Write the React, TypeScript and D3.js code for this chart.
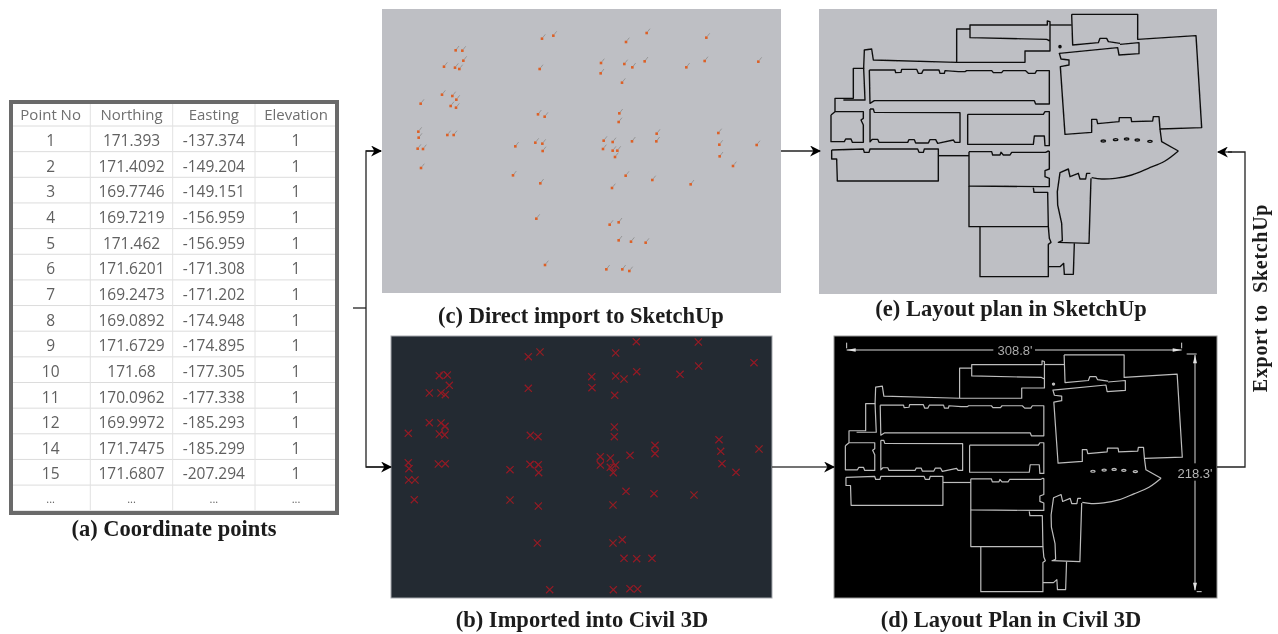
import React from "react";
import * as d3 from "d3";

const headers = ["Point No", "Northing", "Easting", "Elevation"];
const pointNo = ["1", "2", "3", "4", "5", "6", "7", "8", "9", "10", "11", "12", "14", "15", "..."];
const northing = ["171.393", "171.4092", "169.7746", "169.7219", "171.462", "171.6201", "169.2473", "169.0892", "171.6729", "171.68", "170.0962", "169.9972", "171.7475", "171.6807", "..."];
const easting = ["-137.374", "-149.204", "-149.151", "-156.959", "-156.959", "-171.308", "-171.202", "-174.948", "-174.895", "-177.305", "-177.338", "-185.293", "-185.299", "-207.294", "..."];
const elevation = ["1", "1", "1", "1", "1", "1", "1", "1", "1", "1", "1", "1", "1", "1", "..."];

type P = [number, number];

const sketchupPoints: P[] = [[227,136],[247,137],[250,167],[192,185],[225,188],[238,192],[186,269],[217,273],[229,284],[212,303],[228,308],[122,296],[115,380],[116,398],[113,431],[129,432],[202,390],[221,390],[123,489],[486,101],[520,92],[479,192],[474,328],[494,335],[406,424],[466,413],[487,416],[488,438],[399,511],[481,535],[469,641],[495,780],[738,111],[800,84],[663,174],[662,205],[733,177],[757,187],[794,169],[726,233],[979,98],[919,187],[974,168],[1135,170],[718,325],[716,351],[671,407],[669,432],[698,411],[698,437],[712,437],[705,456],[756,409],[830,386],[829,409],[1015,384],[1018,419],[1019,454],[1059,483],[1130,420],[737,512],[696,549],[817,525],[932,538],[689,659],[716,652],[716,706],[753,710],[797,713],[679,793],[727,793],[748,798]];
const civilPoints: P[] = [[163,137],[187,135],[193,166],[133,189],[168,189],[181,194],[133,278],[168,279],[180,289],[163,312],[179,315],[70,310],[70,398],[72,416],[71,450],[90,450],[160,402],[181,401],[88,509],[430,80],[465,66],[430,175],[436,316],[459,320],[375,419],[435,403],[460,404],[461,428],[375,510],[460,528],[457,639],[494,779],[692,69],[754,35],[620,140],[621,173],[692,138],[717,147],[755,125],[689,196],[940,36],[885,133],[941,108],[1107,98],[688,291],[688,320],[646,380],[646,405],[676,384],[676,412],[692,405],[685,428],[735,376],[810,346],[810,371],[1002,329],[1007,364],[1011,401],[1053,427],[1122,357],[723,484],[684,525],[807,491],[927,495],[684,639],[712,629],[717,685],[755,686],[801,685],[685,779],[735,776],[758,777]];
const civilRings: P[] = [[180,300],[175,135],[448,405],[646,393],[810,358],[682,412]];

const planLines: P[][] = [
  [[60,320],[60,280],[115,280],[115,190],[146,190],[148,135],[170,132],[175,165],[425,172],[630,172],[630,138],[705,138],[705,50],[697,48],[697,60],[465,60],[465,98],[695,103],[705,108]],
  [[425,172],[425,72],[465,72]],
  [[705,60],[770,60]],
  [[770,28],[968,28],[968,103],[1143,92],[1160,368],[1035,372],[1032,335],[1015,335],[1013,348],[950,350],[948,338],[913,338],[912,350],[848,356],[845,343],[830,343],[830,382],[750,388],[736,185],[762,180],[762,165],[738,162],[733,145],[908,128],[912,150],[972,146],[972,113],[915,118]],
  [[770,28],[773,120],[850,113],[855,100],[875,100],[880,110],[915,115]],
  [[1035,372],[1040,410],[1090,438]],
  [[826,505],[815,505],[812,522],[795,522],[790,505],[765,515],[760,492],[735,503],[727,560],[728,600],[740,655],[742,707],[730,712],[822,715],[828,520]],
  [[778,715],[775,808],[748,808],[746,775],[735,785],[700,785]],
  [[146,190],[150,285],[85,285]],
  [[163,195],[240,195],[242,203],[258,202],[260,193],[305,193],[310,205],[320,205],[325,195],[372,195],[375,205],[388,205],[390,197],[430,200],[450,200],[455,197],[530,197],[535,203],[560,203],[565,197],[580,197],[632,197],[640,205],[660,205],[665,197],[703,197],[703,297],[662,297],[658,287],[178,287],[165,295],[163,195]],
  [[165,312],[175,312],[178,322],[435,323],[435,412],[420,412],[415,405],[368,415],[362,404],[345,404],[340,414],[302,414],[298,404],[282,404],[278,412],[192,412],[188,403],[172,403],[165,410],[165,312]],
  [[458,328],[685,328],[690,320],[703,320],[703,422],[690,422],[688,393],[658,393],[655,418],[458,418],[458,328]],
  [[48,330],[60,320],[145,320],[145,340],[138,345],[145,360],[145,412],[112,412],[108,402],[92,402],[88,410],[48,410],[48,330]],
  [[50,435],[145,432],[148,442],[162,442],[165,432],[308,432],[312,442],[325,442],[328,432],[370,432],[370,528],[67,528],[65,462],[50,462],[50,435]],
  [[370,452],[462,452]],
  [[462,440],[530,440],[533,450],[555,450],[558,442],[565,450],[585,450],[590,442],[692,442],[700,438],[703,440],[703,492],[690,497],[690,515],[703,520],[703,545],[680,545],[462,543],[462,440]],
  [[462,543],[462,665],[700,665],[698,562],[657,562],[655,548]],
  [[495,665],[495,815],[700,815],[700,718],[708,712],[703,700],[700,665]],
];
const planCurve: P[] = [[1090,438],[1050,468],[1000,490],[950,510],[900,520],[860,522],[830,518]];
const planWindows: P[] = [[865,408],[902,404],[935,402],[967,405],[1005,409]];
const planDot: P = [735,125];

const widthLabel = "308.8'";
const heightLabel = "218.3'";

const sq = (a: number, b: number, c: number, d: number) => d3.scaleLinear().domain([a, b]).range([c, d]);

const cX = sq(0, 1215, 380, 785), cY = sq(0, 885, 5, 300);
const bX = sq(0, 1185, 385, 780), bY = sq(0, 825, 330, 605);
const eX = sq(0, 1215, 815, 1220), eY = sq(0, 885, 5, 300);
const dX = sq(60, 1160, 849, 1182.3), dY = sq(25, 815, 354, 591.7);
const dimX = sq(0, 1200, 825, 1225), dimY = sq(0, 825, 330, 605);

const serif = "'Liberation Serif', serif";
const tableFont = "'Open Sans', sans-serif";

const colX = [11, 90.3, 172.7, 255, 337];
const rowTop = 103.5;
const headerH = 22.5;
const rowH = 25.65;

function Plan({ x, y, color, w, dy = 0 }: { x: any; y: any; color: string; w: number; dy?: number }) {
  const line = d3.line<P>().x((p) => x(p[0])).y((p) => y(p[1]));
  const curve = d3.line<P>().x((p) => x(p[0])).y((p) => y(p[1])).curve(d3.curveCatmullRom);
  return (
    <g fill="none" stroke={color} strokeWidth={w} strokeLinejoin="round">
      {planLines.map((l, i) => <path key={i} d={line(l) as string} />)}
      <path d={curve(planCurve) as string} />
      {planWindows.map((p, i) => (
        <ellipse key={i} cx={x(p[0])} cy={y(p[1]) + dy} rx={2.2} ry={1} />
      ))}
      <circle cx={x(planDot[0])} cy={y(planDot[1])} r={1.1} fill={color} />
    </g>
  );
}

export default function App() {
  const columns = [pointNo, northing, easting, elevation];
  const tableRight = colX[4];
  const tableBottom = rowTop + headerH + rowH * pointNo.length;
  return (
    <svg width={1278} height={634} style={{ position: "absolute", left: 0, top: 0, background: "#fff" }}>
      <defs>
        <filter id="soft" x="-5%" y="-5%" width="110%" height="110%"><feGaussianBlur stdDeviation="0.5" /></filter>
        <filter id="soft2" x="-5%" y="-5%" width="110%" height="110%"><feGaussianBlur stdDeviation="0.4" /></filter>
        <marker id="arr" viewBox="0 0 10 10" refX="9" refY="5" markerWidth="11" markerHeight="11" markerUnits="userSpaceOnUse" orient="auto">
          <path d="M0,0 L10,5 L0,10 L3,5 Z" fill="#000" />
        </marker>
      </defs>

      {/* (a) table */}
      <g filter="url(#soft)">
        <rect x={11} y={102} width={326} height={411} fill="#fff" />
        {d3.range(0, pointNo.length + 1).map((i) => {
          const y = rowTop + headerH + rowH * i;
          return <line key={i} x1={11} x2={tableRight} y1={y} y2={y} stroke="#dcdcdc" strokeWidth={1} />;
        })}
        {colX.slice(1, 4).map((x, i) => <line key={i} x1={x} x2={x} y1={102} y2={tableBottom} stroke="#e2e2e2" />)}
        {headers.map((h, i) => (
          <text key={h} x={(colX[i] + colX[i + 1]) / 2} y={120} textAnchor="middle" fontFamily={tableFont} fontSize={15} fill="#6f6f6f">{h}</text>
        ))}
        {columns.map((col, c) => col.map((v, r) => (
          <text key={c + "-" + r} x={(colX[c] + colX[c + 1]) / 2} y={rowTop + headerH + rowH * r + (v === "..." ? 18 : 20)} textAnchor="middle" fontFamily={tableFont} fontSize={v === "..." ? 11 : 15.5} fill="#606060">{v}</text>
        )))}
      </g>
      <rect x={11} y={102} width={326} height={411} fill="none" stroke="#6a6a6a" strokeWidth={4} />

      {/* (c) */}
      <rect x={382} y={9} width={399} height={284} fill="#bebfc4" />
      <g filter="url(#soft)">
        {sketchupPoints.map((p, i) => (
          <g key={i}>
            <line x1={cX(p[0] + 3)} y1={cY(p[1] - 4)} x2={cX(p[0] + 10)} y2={cY(p[1] - 13)} stroke="#8d8d8d" strokeWidth={0.8} />
            <rect x={cX(p[0]) - 1.3} y={cY(p[1]) - 1.3} width={2.6} height={2.6} fill="#dc6028" />
          </g>
        ))}
      </g>

      {/* (e) */}
      <rect x={819} y={9} width={398} height={285} fill="#bebfc4" />
      <g filter="url(#soft2)"><Plan x={eX} y={eY} color="#111" w={1.4} /></g>

      {/* (b) */}
      <rect x={391} y={336} width={381} height={262} fill="#232a32" stroke="#a5a8ad" strokeWidth={1} />
      <g filter="url(#soft2)" stroke="#951a24" strokeWidth={1.2} fill="none">
        {civilPoints.map((p, i) => {
          const x = bX(p[0]), y = bY(p[1]);
          return <path key={i} d={`M${x - 3.6},${y - 3.6}L${x + 3.6},${y + 3.6}M${x - 3.6},${y + 3.6}L${x + 3.6},${y - 3.6}`} />;
        })}
        {civilRings.map((p, i) => <circle key={i} cx={bX(p[0])} cy={bY(p[1])} r={3.4} strokeWidth={0.7} />)}
      </g>

      {/* (d) */}
      <rect x={834} y={336} width={383} height={262} fill="#000" stroke="#999" strokeWidth={1} />
      <g filter="url(#soft2)">
        <Plan x={dX} y={dY} color="#bdbdbd" w={1.2} dy={2} />
        <g stroke="#d8d8d8" strokeWidth={1} fill="none">
          <line x1={dimX(65)} x2={dimX(505)} y1={dimY(60)} y2={dimY(60)} />
          <line x1={dimX(630)} x2={dimX(1070)} y1={dimY(60)} y2={dimY(60)} />
          <line x1={dimX(65)} x2={dimX(65)} y1={dimY(38)} y2={dimY(55)} />
          <line x1={dimX(1070)} x2={dimX(1070)} y1={dimY(38)} y2={dimY(55)} />
          <line x1={dimX(1085)} x2={dimX(1115)} y1={dimY(72)} y2={dimY(72)} />
          <line x1={dimX(1110)} x2={dimX(1110)} y1={dimY(75)} y2={dimY(400)} />
          <line x1={dimX(1110)} x2={dimX(1110)} y1={dimY(452)} y2={dimY(780)} />
          <line x1={dimX(1115)} x2={dimX(1130)} y1={dimY(785)} y2={dimY(785)} />
        </g>
        <g fill="#e4e4e4">
          <path d={`M${dimX(65)},${dimY(60)}L${dimX(92)},${dimY(55)}L${dimX(92)},${dimY(65)}Z`} />
          <path d={`M${dimX(1070)},${dimY(60)}L${dimX(1043)},${dimY(55)}L${dimX(1043)},${dimY(65)}Z`} />
          <path d={`M${dimX(1110)},${dimY(75)}L${dimX(1104)},${dimY(100)}L${dimX(1116)},${dimY(100)}Z`} />
          <path d={`M${dimX(1110)},${dimY(783)}L${dimX(1104)},${dimY(758)}L${dimX(1116)},${dimY(758)}Z`} />
        </g>
        <text x={dimX(570)} y={dimY(60) + 5} textAnchor="middle" fontFamily="'Liberation Sans', sans-serif" fontSize={13} fill="#aaa">{widthLabel}</text>
        <text x={dimX(1110)} y={dimY(428) + 5} textAnchor="middle" fontFamily="'Liberation Sans', sans-serif" fontSize={13} fill="#b4b4b4">{heightLabel}</text>
      </g>

      {/* connectors */}
      <g fill="none" stroke="#222" strokeWidth={1.3}>
        <line x1={353} x2={366} y1={308} y2={308} />
        <path d="M381,151 H366 V467 H390" />
        <line x1={366} x2={381} y1={151} y2={151} markerEnd="url(#arr)" />
        <line x1={366} x2={391} y1={467} y2={467} markerEnd="url(#arr)" />
        <line x1={781} x2={820} y1={151} y2={151} markerEnd="url(#arr)" />
        <line x1={772} x2={834} y1={467} y2={467} stroke="#444" markerEnd="url(#arr)" />
        <path d="M1217,467 H1245 V152 H1228" />
        <line x1={1232} x2={1218} y1={152} y2={152} markerEnd="url(#arr)" />
      </g>

      {/* captions */}
      <g fontFamily={serif} fontWeight="bold" fontSize={22.5} fill="#1a1a1a" textAnchor="middle" filter="url(#soft2)">
        <text x={174} y={536}>(a) Coordinate points</text>
        <text x={581} y={323}>(c) Direct import to SketchUp</text>
        <text x={1011} y={316}>(e) Layout plan in SketchUp</text>
        <text x={582} y={627}>(b) Imported into Civil 3D</text>
        <text x={1011} y={627}>(d) Layout Plan in Civil 3D</text>
        <text transform="translate(1267,298) rotate(-90)" fontSize={20} letterSpacing={0.7} xmlSpace="preserve" style={{ whiteSpace: "pre" }}>Export to  SketchUp</text>
      </g>
    </svg>
  );
}
